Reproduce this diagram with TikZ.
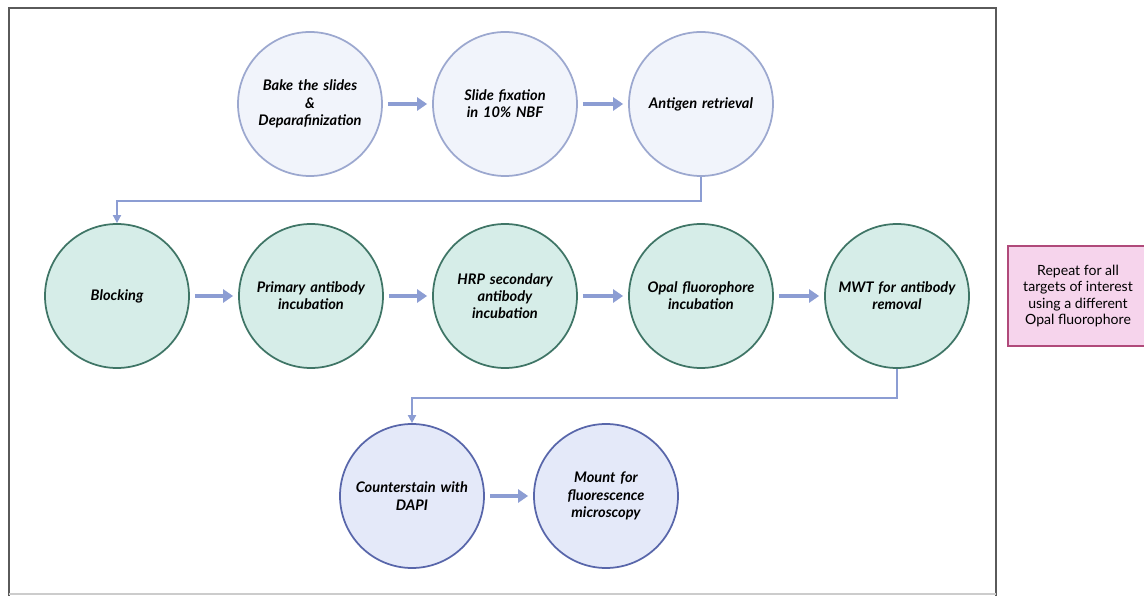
\documentclass[tikz,border=0pt]{standalone}
\usepackage{fontspec}
\setmainfont{Lato}
\usetikzlibrary{arrows.meta,positioning}
\definecolor{flowblue}{RGB}{140,157,211}
\definecolor{prepfill}{RGB}{241,244,251}
\definecolor{prepdraw}{RGB}{156,168,207}
\definecolor{stainfill}{RGB}{214,237,232}
\definecolor{staindraw}{RGB}{63,117,102}
\definecolor{mountfill}{RGB}{228,233,249}
\definecolor{mountdraw}{RGB}{88,102,170}
\definecolor{repeatfill}{RGB}{246,212,236}
\definecolor{repeatdraw}{RGB}{176,74,122}
\definecolor{framegray}{RGB}{90,90,90}

\begin{document}
\begin{tikzpicture}[x=0.2mm, y=-0.2mm,
    stepnode/.style={circle, minimum size=28.8mm, inner sep=0pt, line width=0.35mm,
        align=center, text width=25mm,
        font=\fontsize{8.3}{9.8}\selectfont\bfseries\itshape},
    prep/.style={stepnode, fill=prepfill, draw=prepdraw},
    stain/.style={stepnode, fill=stainfill, draw=staindraw},
    mount/.style={stepnode, fill=mountfill, draw=mountdraw},
    flow/.style={draw=flowblue, line width=0.8mm,
        -{Triangle[width=2.6mm, length=2mm]}},
    link/.style={draw=flowblue, line width=0.35mm,
        -{Triangle[width=1.6mm, length=1.6mm]}}]
    \useasboundingbox (0,0) rectangle (1144,596);
    % outer frame
    \draw[framegray, line width=0.45mm] (9,596) -- (9,8) -- (996,8) -- (996,596);
    \draw[gray!40, line width=0.3mm] (9,594) -- (996,594);
    % preparation row
    \node[prep] (bake) at (310,104) {Bake the slides\\\&\\Deparafinization};
    \node[prep] (fix) at (505,104) {Slide fixation\\in 10\% NBF};
    \node[prep] (retrieval) at (701,104) {Antigen retrieval};
    % staining cycle
    \node[stain] (blocking) at (117,296) {Blocking};
    \node[stain] (primary) at (311,296) {Primary antibody\\incubation};
    \node[stain] (hrp) at (505,296) {HRP secondary\\antibody\\incubation};
    \node[stain] (opal) at (701,296) {Opal fluorophore\\incubation};
    \node[stain] (mwt) at (897,296) {MWT for antibody\\removal};
    % final steps
    \node[mount] (counter) at (412,496) {Counterstain with\\DAPI};
    \node[mount] (mounting) at (606,496) {Mount for\\fluorescence\\microscopy};
    % repeat note
    \node[draw=repeatdraw, fill=repeatfill, line width=0.4mm, minimum width=28mm,
        minimum height=20mm, align=center, inner sep=1pt,
        font=\fontsize{8}{9.2}\selectfont] (repeat) at (1078,296)
        {Repeat for all\\targets of interest\\using a different\\Opal fluorophore};
    % arrows between steps
    \draw[flow] ([xshift=1mm]bake.east) -- ([xshift=-1mm]fix.west);
    \draw[flow] ([xshift=1mm]fix.east) -- ([xshift=-1mm]retrieval.west);
    \draw[flow] ([xshift=1mm]blocking.east) -- ([xshift=-1mm]primary.west);
    \draw[flow] ([xshift=1mm]primary.east) -- ([xshift=-1mm]hrp.west);
    \draw[flow] ([xshift=1mm]hrp.east) -- ([xshift=-1mm]opal.west);
    \draw[flow] ([xshift=1mm]opal.east) -- ([xshift=-1mm]mwt.west);
    \draw[flow] ([xshift=1mm]counter.east) -- ([xshift=-1mm]mounting.west);
    % row links
    \draw[link] (retrieval.south) -- ++(0,24) -| (blocking.north);
    \draw[link] (mwt.south) -- ++(0,29) -| (counter.north);
\end{tikzpicture}
\end{document}
